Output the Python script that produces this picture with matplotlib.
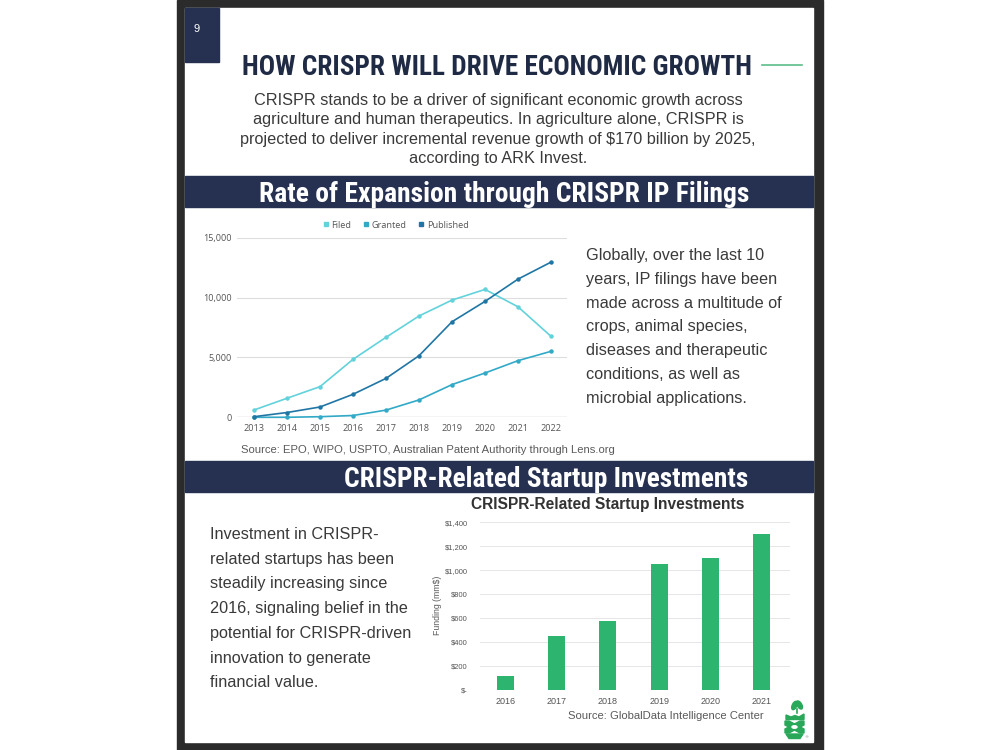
import matplotlib
matplotlib.use("Agg")
import matplotlib.pyplot as plt
from matplotlib import font_manager as fm
from matplotlib.font_manager import FontProperties
from matplotlib.textpath import TextPath
from matplotlib.patches import Rectangle, Ellipse, Polygon
from matplotlib.lines import Line2D

# ---------------- data ----------------
ip_years = ['2013', '2014', '2015', '2016', '2017', '2018', '2019', '2020', '2021', '2022']
filed = [610, 1590, 2560, 4840, 6680, 8460, 9790, 10680, 9230, 6760]
granted = [0, 0, 50, 150, 600, 1450, 2730, 3700, 4730, 5510]
published = [50, 400, 860, 1920, 3250, 5140, 7980, 9680, 11540, 12960]
ip_ticks = [0, 5000, 10000, 15000]
ip_tick_labels = ['0', '5,000', '10,000', '15,000']
series_names = ['Filed', 'Granted', 'Published']

inv_years = ['2016', '2017', '2018', '2019', '2020', '2021']
funding = [120, 450, 575, 1050, 1100, 1300]
inv_ticks = [0, 200, 400, 600, 800, 1000, 1200, 1400]
inv_tick_labels = ['$-', '$200', '$400', '$600', '$800', '$1,000', '$1,200', '$1,400']

page_number = '9'
main_title = 'HOW CRISPR WILL DRIVE ECONOMIC GROWTH'
intro_lines = [
    'CRISPR stands to be a driver of significant economic growth across',
    'agriculture and human therapeutics. In agriculture alone, CRISPR is',
    'projected to deliver incremental revenue growth of $170 billion by 2025,',
    'according to ARK Invest.',
]
band1_title = 'Rate of Expansion through CRISPR IP Filings'
band2_title = 'CRISPR-Related Startup Investments'
ip_para = [
    'Globally, over the last 10',
    'years, IP filings have been',
    'made across a multitude of',
    'crops, animal species,',
    'diseases and therapeutic',
    'conditions, as well as',
    'microbial applications.',
]
ip_source = 'Source: EPO, WIPO, USPTO, Australian Patent Authority through Lens.org'
inv_para = [
    'Investment in CRISPR-',
    'related startups has been',
    'steadily increasing since',
    '2016, signaling belief in the',
    'potential for CRISPR-driven',
    'innovation to generate',
    'financial value.',
]
inv_chart_title = 'CRISPR-Related Startup Investments'
inv_ylabel = 'Funding (mm$)'
inv_source = 'Source: GlobalData Intelligence Center'

# ---------------- styles ----------------
W, H, DPI = 1000, 750, 100
NAVY = '#263152'
FRAME = '#2b2b2b'
TXT = '#3a3a3a'
GRAY = '#5a5a5a'
C_FILED = '#62d2db'
C_GRANTED = '#31a9c7'
C_PUB = '#1f76a5'
C_BAR = '#2db46e'

names = {f.name for f in fm.fontManager.ttflist}
cond_family = next((n for n in ['Roboto Condensed', 'Liberation Sans Narrow', 'DejaVu Sans']
                    if n in names), 'DejaVu Sans')
SANS = 'Liberation Sans' if 'Liberation Sans' in names else 'DejaVu Sans'
CHART = 'Open Sans' if 'Open Sans' in names else SANS

fp_cond = FontProperties(family=cond_family, weight='bold', stretch='condensed')
fp_sans = FontProperties(family=SANS)
fp_sans_b = FontProperties(family=SANS, weight='bold')


def fit(text, px, fp):
    w = TextPath((0, 0), text, size=100, prop=fp).get_extents().width
    return px * 72.0 / w


fig = plt.figure(figsize=(W / DPI, H / DPI), dpi=DPI)
bg = fig.add_axes([0, 0, 1, 1])
bg.set_xlim(0, W)
bg.set_ylim(H, 0)
bg.axis('off')

# frame and panels
bg.add_patch(Rectangle((177, 0), 646, 750, color=FRAME, zorder=0))
bg.add_patch(Rectangle((185, 8), 628, 734, color='white', zorder=1))
bg.add_patch(Rectangle((185, 8), 34, 54, color=NAVY, zorder=2))
bg.add_patch(Rectangle((185, 176), 628, 31, color=NAVY, zorder=2))
bg.add_patch(Rectangle((185, 461), 628, 31, color=NAVY, zorder=2))

bg.text(197, 29, page_number, color='white', fontsize=8, family=SANS,
        ha='center', va='center', zorder=3)

# main title
s = fit(main_title, 507, fp_cond)
bg.text(242, 75, main_title, fontproperties=fp_cond, fontsize=s, color='#1f2a44',
        ha='left', va='baseline', zorder=3)
bg.plot([762, 802], [65, 65], color='#5cbf8a', lw=1.2, zorder=3)

s = fit(intro_lines[0], 485, fp_sans)
for i, line in enumerate(intro_lines):
    bg.text(498, 105 + 19.3 * i, line, fontproperties=fp_sans, fontsize=s, color=TXT,
            ha='center', va='baseline', zorder=3)

# band titles
s = fit(band1_title, 487, fp_cond)
bg.text(504, 202, band1_title, fontproperties=fp_cond, fontsize=s, color='white',
        ha='center', va='baseline', zorder=3)
s = fit(band2_title, 403, fp_cond)
bg.text(546, 487, band2_title, fontproperties=fp_cond, fontsize=s, color='white',
        ha='center', va='baseline', zorder=3)

# right paragraph (IP)
s = fit(ip_para[2], 194, fp_sans)
for i, line in enumerate(ip_para):
    bg.text(586, 260 + 23.8 * i, line, fontproperties=fp_sans, fontsize=s, color=TXT,
            ha='left', va='baseline', zorder=3)
s = fit(ip_source, 372, fp_sans)
bg.text(241, 453, ip_source, fontproperties=fp_sans, fontsize=s, color=GRAY,
        ha='left', va='baseline', zorder=3)

# left paragraph (investments)
s = fit(inv_para[4], 199, fp_sans)
for i, line in enumerate(inv_para):
    bg.text(210, 539 + 24.7 * i, line, fontproperties=fp_sans, fontsize=s, color=TXT,
            ha='left', va='baseline', zorder=3)

s = fit(inv_chart_title, 273, fp_sans_b)
bg.text(608, 509, inv_chart_title, fontproperties=fp_sans_b, fontsize=s, color='#333333',
        ha='center', va='baseline', zorder=3)
s = fit(inv_source, 194, fp_sans)
bg.text(568, 719, inv_source, fontproperties=fp_sans, fontsize=s, color=GRAY,
        ha='left', va='baseline', zorder=3)
bg.text(437, 605, inv_ylabel, family=SANS, fontsize=6.3, color=GRAY, rotation=90,
        ha='center', va='center', zorder=3)

# logo
LG = '#2aa85a'
bg.add_patch(Ellipse((794.5, 705.5), 4.5, 9, angle=25, color=LG, zorder=3))
bg.add_patch(Ellipse((799.5, 705), 4.5, 9, angle=-30, color=LG, zorder=3))
bg.plot([796.5, 796.5], [709, 713], color=LG, lw=1.2, zorder=3)
bg.add_patch(Polygon([(786, 715), (791, 717), (795, 715.5), (799, 717), (804, 714),
                      (804, 719.5), (786, 719.5)], color=LG, zorder=3))
bg.add_patch(Polygon([(785, 721), (789, 721), (804, 729), (804, 733), (800, 733), (785, 725)],
                     color=LG, zorder=3))
bg.add_patch(Polygon([(804, 721), (800, 721), (785, 729), (785, 733), (789, 733), (804, 725)],
                     color=LG, zorder=3))
bg.add_patch(Ellipse((794.5, 727), 5, 2.5, color='white', zorder=4))
bg.add_patch(Polygon([(786, 734), (803, 734), (800, 738.5), (789, 738.5)], color=LG, zorder=3))
bg.text(806.5, 737, '®', fontsize=3, color='#888888', ha='center', va='center', zorder=3)


def px_axes(x0, x1, y_top, y_bot):
    return fig.add_axes([x0 / W, 1 - y_bot / H, (x1 - x0) / W, (y_bot - y_top) / H])


# ---------------- line chart ----------------
ax = px_axes(237, 567, 237.7, 417.3)
ax.set_facecolor('none')
xs = list(range(len(ip_years)))
for vals, col in zip([filed, granted, published], [C_FILED, C_GRANTED, C_PUB]):
    ax.plot(xs, vals, color=col, lw=1.2, marker='o', ms=2.2, zorder=3, clip_on=False)
ax.set_xlim(-0.515, 9.485)
ax.set_ylim(0, 15000)
ax.set_xticks(xs)
ax.set_xticklabels(ip_years)
ax.set_yticks(ip_ticks)
ax.set_yticklabels(ip_tick_labels)
for t in ax.get_xticklabels() + ax.get_yticklabels():
    t.set_family(CHART)
    t.set_fontsize(6.6)
    t.set_color('#555555')
ax.tick_params(length=0)
ax.tick_params(axis='x', pad=5)
ax.tick_params(axis='y', pad=4)
for sp in ax.spines.values():
    sp.set_visible(False)
ax.grid(axis='y', color='#dddddd', lw=0.8)
ax.axhline(0, color='#bbbbbb', lw=0.9, zorder=2)
handles = [Line2D([], [], marker='s', ls='', color=c, ms=3.2)
           for c in [C_FILED, C_GRANTED, C_PUB]]
leg = ax.legend(handles, series_names, loc='center', bbox_to_anchor=(0.48, 1.07),
                ncol=3, frameon=False, handletextpad=0.2, columnspacing=1.2,
                handlelength=0.8, prop=FontProperties(family=CHART, size=6.6))
for t in leg.get_texts():
    t.set_color('#555555')

# ---------------- bar chart ----------------
bx = px_axes(480, 790, 522.3, 690)
bx.set_facecolor('none')
bxs = list(range(len(inv_years)))
bx.bar(bxs, funding, width=0.33, color=C_BAR, zorder=3)
bx.set_xlim(-0.49, 5.55)
bx.set_ylim(0, 1400)
bx.set_xticks(bxs)
bx.set_xticklabels(inv_years)
bx.set_yticks(inv_ticks)
bx.set_yticklabels(inv_tick_labels)
for t in bx.get_xticklabels():
    t.set_family(SANS)
    t.set_fontsize(6.5)
    t.set_color('#555555')
for t in bx.get_yticklabels():
    t.set_family(SANS)
    t.set_fontsize(5.4)
    t.set_color('#555555')
bx.tick_params(length=0)
bx.tick_params(axis='x', pad=5)
bx.tick_params(axis='y', pad=9)
for sp in bx.spines.values():
    sp.set_visible(False)
bx.grid(axis='y', color='#e6e6e6', lw=0.7)
bx.set_axisbelow(True)

fig.savefig('out.png', dpi=DPI)
